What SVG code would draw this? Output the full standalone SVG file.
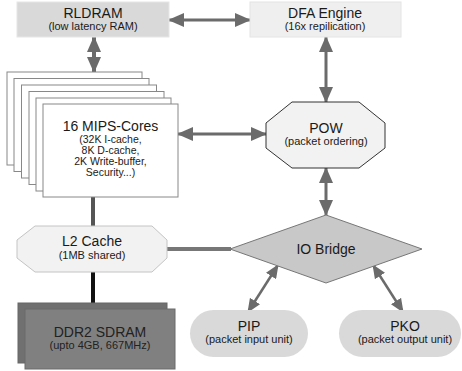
<svg xmlns="http://www.w3.org/2000/svg" width="462" height="371" viewBox="0 0 462 371">
<defs>
<marker id="ah" viewBox="0 0 16 14" refX="15" refY="7" markerWidth="16" markerHeight="14" markerUnits="userSpaceOnUse" orient="auto-start-reverse">
<path d="M0,0 L16,7 L0,14 Z" fill="#6b6b6b"/>
</marker>
<marker id="ahs" viewBox="0 0 14 12" refX="13" refY="6" markerWidth="14" markerHeight="12" markerUnits="userSpaceOnUse" orient="auto-start-reverse">
<path d="M0,0 L14,6 L0,12 Z" fill="#6b6b6b"/>
</marker>
</defs>
<style>
text{font-family:"Liberation Sans",Arial,sans-serif;text-anchor:middle;fill:#1a1a1a}
.t{font-size:14px}
.s{font-size:11px}
.m{font-size:10.5px}
.arr{stroke:#6b6b6b;fill:none}
</style>
<rect width="462" height="371" fill="#fff"/>
<g id="connectors">
<line class="arr" x1="169" y1="20" x2="250" y2="20" stroke-width="3" marker-start="url(#ah)" marker-end="url(#ah)"/>
<line class="arr" x1="94" y1="37" x2="94" y2="72" stroke-width="4" marker-start="url(#ah)" marker-end="url(#ah)"/>
<line class="arr" x1="326" y1="37" x2="326" y2="102" stroke-width="3" marker-start="url(#ah)" marker-end="url(#ah)"/>
<line class="arr" x1="178" y1="134" x2="266" y2="134" stroke-width="3" marker-start="url(#ah)" marker-end="url(#ah)"/>
<line class="arr" x1="326" y1="168" x2="326" y2="215" stroke-width="3" marker-start="url(#ah)" marker-end="url(#ah)"/>
<line x1="93" y1="197" x2="93" y2="226" stroke="#555" stroke-width="4"/>
<line x1="93" y1="272" x2="93" y2="303" stroke="#111" stroke-width="4"/>
<line x1="167" y1="249" x2="231" y2="249" stroke="#777" stroke-width="4"/>
<line class="arr" x1="278" y1="265" x2="248" y2="312" stroke-width="2.5" marker-start="url(#ahs)" marker-end="url(#ahs)"/>
<line class="arr" x1="373" y1="265" x2="403" y2="312" stroke-width="2.5" marker-start="url(#ahs)" marker-end="url(#ahs)"/>
</g>
<g id="rldram">
<rect x="17" y="2" width="152" height="35" fill="#d9d9d9" stroke="#e6e6e6"/>
<text class="t" x="93" y="18">RLDRAM</text>
<text class="s" x="93" y="30">(low latency RAM)</text>
</g>
<g id="dfa">
<rect x="250" y="2" width="151" height="35" fill="#efefef" stroke="#e4e4e4"/>
<text class="t" x="325" y="18">DFA Engine</text>
<text class="s" x="325" y="30">(16x repilication)</text>
</g>
<g id="mips" fill="#fff" stroke="#888">
<rect x="7" y="72" width="135" height="93"/>
<rect x="14" y="78.5" width="135" height="93"/>
<rect x="21.5" y="85" width="135" height="93"/>
<rect x="29" y="91.5" width="135" height="93"/>
<rect x="36" y="98" width="135" height="93"/>
<rect x="43" y="104" width="135" height="93"/>
<g stroke="none">
<text class="t" x="110.5" y="131">16 MIPS-Cores</text>
<text class="m" x="110.5" y="143">(32K I-cache,</text>
<text class="m" x="110.5" y="154">8K D-cache,</text>
<text class="m" x="110.5" y="165">2K Write-buffer,</text>
<text class="m" x="110.5" y="176">Security...)</text>
</g>
</g>
<g id="pow">
<polygon points="292,102 359,102 385,123 385,148 359,168 292,168 266,148 266,123" fill="#f2f2f2" stroke="#333"/>
<text class="t" x="326" y="133">POW</text>
<text class="s" x="326" y="145">(packet ordering)</text>
</g>
<g id="l2">
<polygon points="35,226 152,226 167,240 167,258 152,272 35,272 17,258 17,240" fill="#f2f2f2" stroke="#c4c4c4"/>
<text class="t" x="92" y="246">L2 Cache</text>
<text class="s" x="92" y="259">(1MB shared)</text>
</g>
<g id="iobridge">
<polygon points="326,215 422,249 326,283 230,249" fill="#c8c8c8" stroke="#777"/>
<text class="t" x="326" y="254">IO Bridge</text>
</g>
<g id="ddr2">
<rect x="18" y="303" width="149" height="60" fill="#707070" stroke="#666"/>
<rect x="25" y="309" width="150" height="60" fill="#808080" stroke="#6a6a6a"/>
<text class="t" x="100" y="337" style="fill:#222">DDR2 SDRAM</text>
<text class="s" x="100" y="349" style="fill:#222">(upto 4GB, 667MHz)</text>
</g>
<g id="pip">
<rect x="190" y="310" width="118" height="47" rx="23.5" fill="#d9d9d9"/>
<text class="t" x="249" y="331">PIP</text>
<text class="s" x="249" y="343">(packet input unit)</text>
</g>
<g id="pko">
<rect x="339" y="310" width="122" height="47" rx="23.5" fill="#d9d9d9"/>
<text class="t" x="405" y="331">PKO</text>
<text class="s" x="405" y="343">(packet output unit)</text>
</g>
</svg>
